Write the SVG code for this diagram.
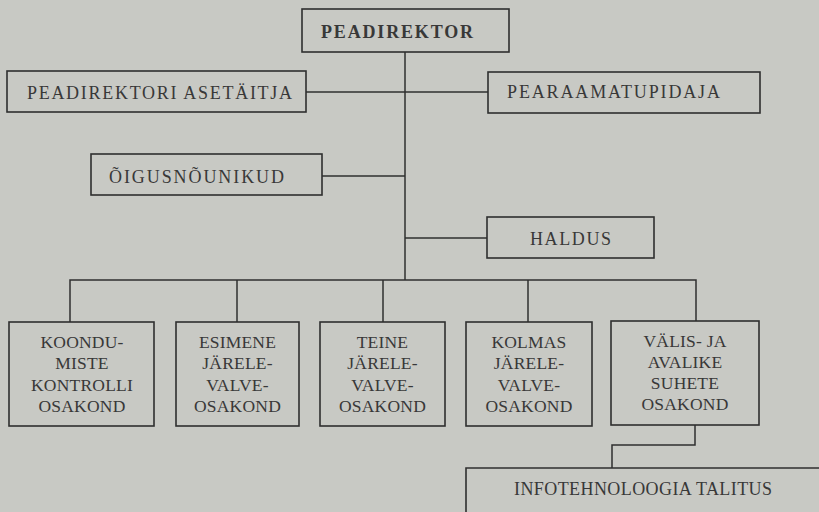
<svg xmlns="http://www.w3.org/2000/svg" width="819" height="512" viewBox="0 0 819 512">
<style>
.bg{fill:#c8c9c4}
.box{fill:none;stroke:#2f2f2f;stroke-width:1.6}
.ln{fill:none;stroke:#2f2f2f;stroke-width:1.5}
text{font-family:"Liberation Serif","Times New Roman",serif;fill:#383838;font-size:18px}
.c{text-anchor:middle;font-size:17.5px;letter-spacing:0.2px}
.b{font-weight:bold}
</style>
<rect class="bg" x="0" y="0" width="819" height="512"/>
<g id="connectors">
<path class="ln" d="M405 52V280"/>
<path class="ln" d="M306 92H488"/>
<path class="ln" d="M322 176H405"/>
<path class="ln" d="M405 238H487"/>
<path class="ln" d="M70 322V280H696V321"/>
<path class="ln" d="M237 280V322"/>
<path class="ln" d="M383 280V322"/>
<path class="ln" d="M528 280V322"/>
<path class="ln" d="M695 425V445H612V468"/>
</g>
<g id="peadirektor">
<rect class="box" x="302" y="9" width="207" height="43"/>
<text class="b" x="321" y="38" textLength="152">PEADIREKTOR</text>
</g>
<g id="asetaitja">
<rect class="box" x="7" y="71" width="299" height="41"/>
<text x="27" y="99" font-size="19" textLength="265">PEADIREKTORI ASETÄITJA</text>
</g>
<g id="pearaamatupidaja">
<rect class="box" x="488" y="72" width="272" height="41"/>
<text x="507" y="98" font-size="19" textLength="213">PEARAAMATUPIDAJA</text>
</g>
<g id="oigusnounikud">
<rect class="box" x="91" y="154" width="231" height="41"/>
<text x="109" y="183" font-size="19" textLength="175">ÕIGUSNÕUNIKUD</text>
</g>
<g id="haldus">
<rect class="box" x="487" y="217" width="167" height="41"/>
<text x="530" y="245" font-size="20" textLength="81">HALDUS</text>
</g>
<g id="koondumiste">
<rect class="box" x="9" y="322" width="145" height="104"/>
<text class="c" x="82" y="348">KOONDU-</text>
<text class="c" x="82" y="369">MISTE</text>
<text class="c" x="82" y="391">KONTROLLI</text>
<text class="c" x="82" y="412">OSAKOND</text>
</g>
<g id="esimene">
<rect class="box" x="176" y="322" width="123" height="104"/>
<text class="c" x="237.5" y="348">ESIMENE</text>
<text class="c" x="237.5" y="369">JÄRELE-</text>
<text class="c" x="237.5" y="391">VALVE-</text>
<text class="c" x="237.5" y="412">OSAKOND</text>
</g>
<g id="teine">
<rect class="box" x="320" y="322" width="125" height="104"/>
<text class="c" x="382.5" y="348">TEINE</text>
<text class="c" x="382.5" y="369">JÄRELE-</text>
<text class="c" x="382.5" y="391">VALVE-</text>
<text class="c" x="382.5" y="412">OSAKOND</text>
</g>
<g id="kolmas">
<rect class="box" x="466" y="322" width="126" height="104"/>
<text class="c" x="529" y="348">KOLMAS</text>
<text class="c" x="529" y="369">JÄRELE-</text>
<text class="c" x="529" y="391">VALVE-</text>
<text class="c" x="529" y="412">OSAKOND</text>
</g>
<g id="valis">
<rect class="box" x="611" y="321" width="148" height="104"/>
<text class="c" x="685" y="347">VÄLIS- JA</text>
<text class="c" x="685" y="368">AVALIKE</text>
<text class="c" x="685" y="389">SUHETE</text>
<text class="c" x="685" y="410">OSAKOND</text>
</g>
<g id="infotehnoloogia">
<path class="box" d="M466 520V468H825"/>
<text x="514" y="495" font-size="17.5" textLength="258">INFOTEHNOLOOGIA TALITUS</text>
</g>
</svg>
